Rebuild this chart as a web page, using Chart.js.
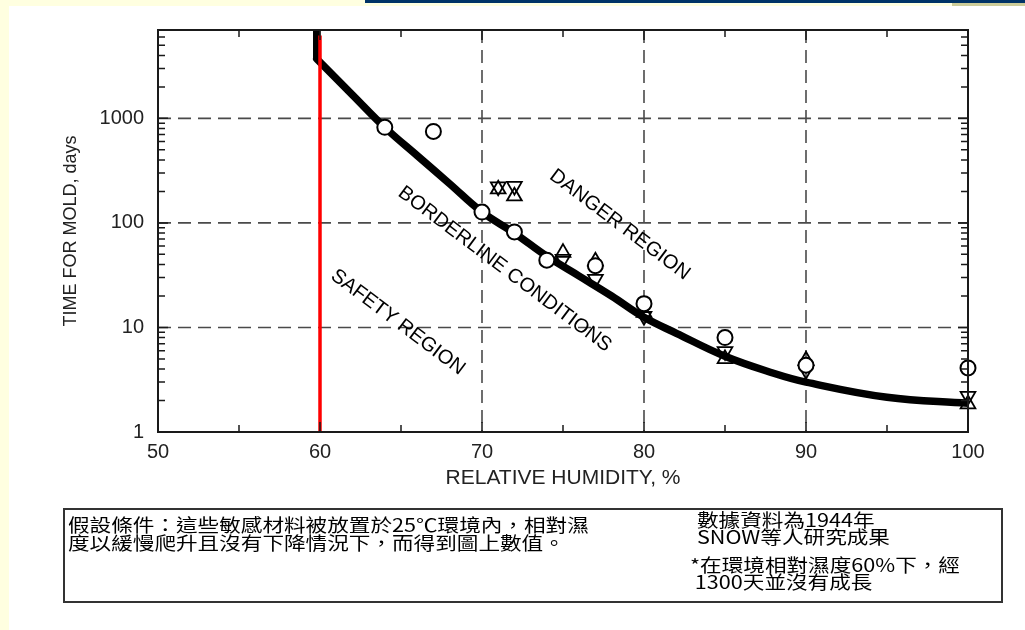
<!DOCTYPE html>
<html>
<head>
<meta charset="utf-8">
<script src="https://cdn.jsdelivr.net/npm/chart.js@4.4.0/dist/chart.umd.min.js"></script>
<style>
body { margin: 0; background: #fff; }
#page { position: relative; width: 1025px; height: 630px; overflow: hidden; background: #fff; }
.band { position: absolute; }
#chartBox { position: absolute; left: 0; top: 0; width: 1025px; height: 630px; }
#note { position: absolute; left: 63px; top: 508px; width: 936px; height: 91px; border: 2px solid #333; }
.txt { position: absolute; font-family: "Noto Sans CJK TC", sans-serif; font-size: 18px; white-space: pre; transform: scaleX(1.2); transform-origin: 0 0; color: #000; }
</style>
</head>
<body>
<div id="page">
  <div class="band" style="left:0;top:0;width:1025px;height:6px;background:#ffffe0"></div>
  <div class="band" style="left:0;top:0;width:9px;height:630px;background:#ffffe0"></div>
  <div class="band" style="left:365px;top:0;width:660px;height:3px;background:#003366"></div>
  <div class="band" style="left:952px;top:3px;width:73px;height:3px;background:#cccc99"></div>
  <div id="chartBox"><canvas id="moldChart"></canvas></div>
  <div id="note"></div>
  <div class="txt" style="left:68px;top:515px;line-height:18px">假設條件：這些敏感材料被放置於25℃環境內，相對濕
度以緩慢爬升且沒有下降情況下，而得到圖上數值。</div>
  <div class="txt" style="left:697px;top:511px;line-height:17px">數據資料為1944年
SNOW等人研究成果</div>
  <div class="txt" style="left:690px;top:556px;line-height:17px">*在環境相對濕度60%下，經
 1300天並沒有成長</div>
</div>
<script>
// values (Snow et al. 1944)
const humidityTicks = [50, 60, 70, 80, 90, 100];
const dayTicks = [1, 10, 100, 1000];
const gridX = [70, 80, 90];
const gridY = [10, 100, 1000];

const curveX = [59.8, 62, 64, 66, 68, 70, 72, 74, 76, 78, 80, 82, 85, 88, 90, 95, 100];
const curveY = [3700, 1680, 820, 440, 237, 127, 80, 48, 31, 20, 12.5, 8.8, 5.3, 3.65, 3.0, 2.15, 1.88];
const topX = [59.8, 59.8];
const topY = [7000, 3700];

const limitX = [60, 60];
const limitY = [1, 6200];

const circleX = [64, 67, 70, 72, 74, 77, 80, 85, 90, 100];
const circleY = [820, 750, 127, 82, 44, 39, 16.9, 8.0, 4.35, 4.1];
const upX = [71, 72, 75, 77, 80, 85, 90, 100];
const upY = [210, 180, 52, 43, 13.9, 5.0, 4.85, 1.85];
const downX = [71, 72, 75, 77, 80, 85, 90, 100];
const downY = [222, 225, 45, 29, 12.8, 5.9, 3.9, 2.2];

const regionLabels = [
  { text: 'DANGER REGION', x: 78.5, y: 96 },
  { text: 'BORDERLINE CONDITIONS', x: 71.4, y: 36 },
  { text: 'SAFETY REGION', x: 64.8, y: 11.2 }
];

const pts = (xs, ys) => xs.map((v, i) => ({ x: v, y: ys[i] }));
const fontFamily = 'Liberation Sans, Arial, sans-serif';

const framePlugin = {
  id: 'frame',
  beforeDatasetsDraw(chart) {
    const { ctx, chartArea: a, scales: { x, y } } = chart;
    ctx.save();
    ctx.strokeStyle = '#4a4a4a';
    ctx.lineWidth = 1.6;
    ctx.setLineDash([13, 7]);
    ctx.beginPath();
    gridX.forEach(v => {
      const px = x.getPixelForValue(v);
      ctx.moveTo(px, a.top); ctx.lineTo(px, a.bottom);
    });
    gridY.forEach(v => {
      const py = y.getPixelForValue(v);
      ctx.moveTo(a.left, py); ctx.lineTo(a.right, py);
    });
    ctx.stroke();
    ctx.restore();
  },
  afterDatasetsDraw(chart) {
    const { ctx, chartArea: a, scales: { x, y } } = chart;
    ctx.save();
    ctx.strokeStyle = '#1a1a1a';
    ctx.lineWidth = 2;
    ctx.strokeRect(a.left, a.top, a.right - a.left, a.bottom - a.top);
    ctx.lineWidth = 1.5;
    ctx.beginPath();
    for (let v = 50; v <= 100; v += 5) {
      const px = x.getPixelForValue(v);
      const len = v % 10 === 0 ? 10 : 7;
      ctx.moveTo(px, a.bottom); ctx.lineTo(px, a.bottom - len);
      ctx.moveTo(px, a.top); ctx.lineTo(px, a.top + len);
    }
    for (let k = 0; k < 4; k++) {
      for (let d = 1; d <= 9; d++) {
        const v = d * Math.pow(10, k);
        if (v > y.max) continue;
        const py = y.getPixelForValue(v);
        const len = d === 1 ? 10 : 7;
        ctx.moveTo(a.left, py); ctx.lineTo(a.left + len, py);
        ctx.moveTo(a.right, py); ctx.lineTo(a.right - len, py);
      }
    }
    ctx.stroke();

    ctx.fillStyle = '#000';
    ctx.font = '20px ' + fontFamily;
    ctx.textAlign = 'center';
    ctx.textBaseline = 'middle';
    regionLabels.forEach(l => {
      ctx.save();
      ctx.translate(x.getPixelForValue(l.x), y.getPixelForValue(l.y));
      ctx.rotate(37 * Math.PI / 180);
      ctx.fillText(l.text, 0, 0);
      ctx.restore();
    });
    ctx.restore();
  }
};

new Chart(document.getElementById('moldChart'), {
  type: 'scatter',
  data: {
    datasets: [
      {
        data: pts(circleX, circleY), clip: false,
        pointStyle: 'circle', pointRadius: 7.5, borderWidth: 2,
        borderColor: '#000', backgroundColor: '#fff', showLine: false
      },
      {
        data: pts(upX, upY), clip: false,
        pointStyle: 'triangle', pointRadius: 8.5, borderWidth: 1.8,
        borderColor: '#000', backgroundColor: 'rgba(255,255,255,0)', showLine: false
      },
      {
        data: pts(downX, downY), clip: false,
        pointStyle: 'triangle', rotation: 180, pointRadius: 8.5, borderWidth: 1.8,
        borderColor: '#000', backgroundColor: 'rgba(255,255,255,0)', showLine: false
      },
      {
        data: pts(limitX, limitY),
        showLine: true, borderColor: '#ff0000', borderWidth: 3.5, pointRadius: 0
      },
      {
        data: pts(curveX, curveY),
        showLine: true, borderColor: '#000', borderWidth: 7.5, pointRadius: 0,
        tension: 0.4, borderCapStyle: 'round', borderJoinStyle: 'round'
      },
      {
        data: pts(topX, topY),
        showLine: true, borderColor: '#000', borderWidth: 7.5, pointRadius: 0
      }
    ]
  },
  options: {
    responsive: true,
    maintainAspectRatio: false,
    animation: false,
    layout: { padding: { left: 0, right: 57, top: 30, bottom: 135 } },
    plugins: { legend: { display: false }, tooltip: { enabled: false } },
    scales: {
      x: {
        type: 'linear', min: 50, max: 100,
        grid: { display: false, drawTicks: false },
        border: { display: false },
        afterBuildTicks: s => { s.ticks = humidityTicks.map(v => ({ value: v })); },
        afterFit: s => { s.height = 63; },
        ticks: { font: { family: fontFamily, size: 20 }, color: '#222', padding: 8, maxRotation: 0 },
        title: {
          display: true, text: 'RELATIVE HUMIDITY, %', color: '#222',
          font: { family: fontFamily, size: 21 },
          padding: { top: 0, bottom: 4 }
        }
      },
      y: {
        type: 'logarithmic', min: 1, max: 7000,
        grid: { display: false, drawTicks: false },
        border: { display: false },
        afterBuildTicks: s => { s.ticks = dayTicks.map(v => ({ value: v })); },
        afterFit: s => { s.width = 158; },
        ticks: { font: { family: fontFamily, size: 20 }, color: '#222', padding: 14, callback: v => String(v) },
        title: {
          display: true, text: 'TIME FOR MOLD, days', color: '#222',
          font: { family: fontFamily, size: 18 },
          padding: { top: 60, bottom: 0 }
        }
      }
    }
  },
  plugins: [framePlugin]
});
</script>
</body>
</html>
